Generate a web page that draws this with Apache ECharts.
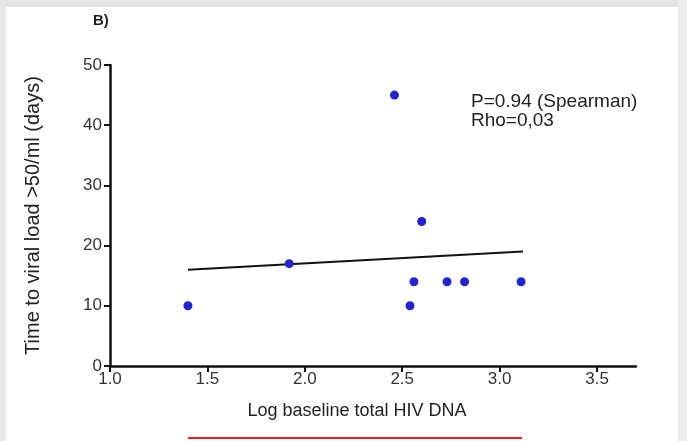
<!DOCTYPE html>
<html lang="en">
<head>
    <meta charset="UTF-8">
    <title>HIV DNA vs time to viral load</title>
    <script type="text/javascript" src="https://cdn.jsdelivr.net/npm/echarts@6/dist/echarts.min.js"></script>
    <style>
        html, body { margin: 0; padding: 0; background: #ffffff; }
        #chart { width: 687px; height: 441px; }
    </style>
</head>
<body>
<div id="chart"></div>
<script type="text/javascript">
    // log baseline total HIV DNA (x) and days to viral load >50/ml (y)
    var logDna = [1.40, 1.92, 2.46, 2.60, 2.56, 2.54, 2.73, 2.82, 3.11];
    var days   = [10, 17, 45, 24, 14, 10, 14, 14, 14];
    // fitted line, two end points
    var fitX = [1.40, 3.12];
    var fitY = [16.0, 19.0];
    var xTicks = [1.0, 1.5, 2.0, 2.5, 3.0, 3.5];

    var points = logDna.map(function (v, i) { return [v, days[i]]; });
    var fitLine = fitX.map(function (v, i) { return [v, fitY[i]]; });

    var chart = echarts.init(document.getElementById('chart'));
    var font = 'Liberation Sans, Arial, sans-serif';

    var option = {
        backgroundColor: '#ffffff',
        animation: false,
        grid: { left: 110, right: 51, top: 65, bottom: 75 },
        xAxis: {
            type: 'value',
            min: 1.0,
            max: 3.7,
            splitLine: { show: false },
            axisLine: { onZero: false, lineStyle: { color: '#111', width: 2.5 } },
            axisTick: { customValues: xTicks, length: 6, lineStyle: { color: '#111', width: 2 } },
            axisLabel: {
                customValues: xTicks,
                color: '#333', fontSize: 17, fontFamily: font, margin: 5,
                formatter: function (v) { return v.toFixed(1); }
            },
            name: 'Log baseline total HIV DNA',
            nameLocation: 'middle',
            nameGap: 36,
            nameTextStyle: { color: '#222', fontSize: 18, fontFamily: font, padding: [0, 32, 0, 0] }
        },
        yAxis: {
            type: 'value',
            min: 0,
            max: 50,
            interval: 10,
            splitLine: { show: false },
            axisLine: { show: true, lineStyle: { color: '#111', width: 2.5 } },
            axisTick: { show: true, length: 6, lineStyle: { color: '#111', width: 2 } },
            axisLabel: { color: '#333', fontSize: 17, fontFamily: font, margin: 8 },
            name: 'Time to viral load >50/ml (days)',
            nameLocation: 'middle',
            nameGap: 67,
            nameTextStyle: { color: '#222', fontSize: 20, fontFamily: font }
        },
        series: [
            {
                type: 'line',
                data: fitLine,
                symbol: 'none',
                lineStyle: { color: '#111', width: 2 },
                z: 2
            },
            {
                type: 'scatter',
                data: points,
                symbolSize: 9,
                itemStyle: { color: '#2424cc', opacity: 1 },
                z: 3
            }
        ],
        graphic: [
            { type: 'rect', shape: { x: 0, y: 0, width: 687, height: 7 }, style: { fill: '#e4e4e4' } },
            { type: 'rect', shape: { x: 0, y: 0, width: 6, height: 441 }, style: { fill: '#e8e8e8' } },
            { type: 'rect', shape: { x: 678, y: 0, width: 9, height: 441 }, style: { fill: '#ececec' } },
            {
                type: 'text', left: 93, top: 13,
                style: { text: 'B)', fill: '#222', font: 'bold 15px ' + font }
            },
            {
                type: 'text', left: 471, top: 92,
                style: { text: 'P=0.94 (Spearman)\nRho=0,03', fill: '#222', font: '19px ' + font, lineHeight: 19 }
            },
            { type: 'rect', shape: { x: 188, y: 437, width: 334, height: 2 }, style: { fill: '#ff1a1a' } }
        ]
    };
    chart.setOption(option);
</script>
</body>
</html>
